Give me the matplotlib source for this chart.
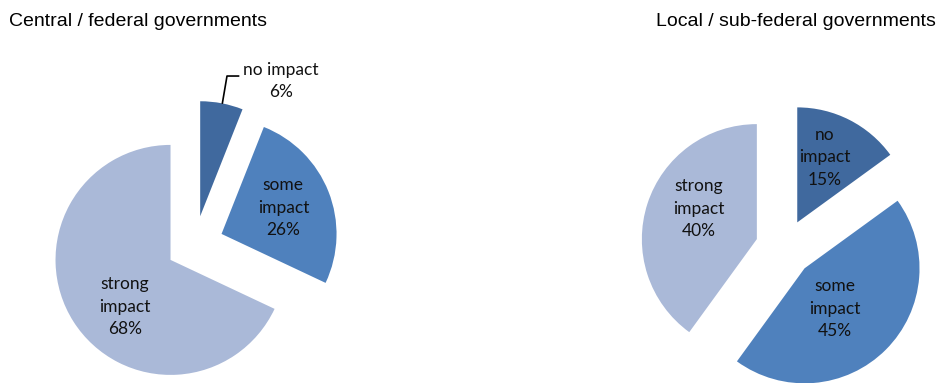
import matplotlib.pyplot as plt

# data
categories = ['no impact', 'some impact', 'strong impact']
central = [6, 26, 68]
local = [15, 45, 40]
colors = ['#40699E', '#4F81BD', '#AAB9D8']

W, H = 940, 383
fig = plt.figure(figsize=(W / 100, H / 100), dpi=100)

LIM = 1.7
R = 115.0


def make_axes(cx, cy):
    # cx, cy = pie centre in pixels (y from top)
    size = 2 * LIM * R
    ax = fig.add_axes([(cx - size / 2) / W, 1 - (cy + size / 2) / H, size / W, size / H])
    return ax


def draw_pie(ax, values, label_pos):
    labels = []
    for c, v in zip(categories, values):
        word, rest = c.split(' ')
        labels.append(f'{word}\n{rest}\n{v}%')
    wedges, texts = ax.pie(values, colors=colors, startangle=90, counterclock=False,
                           explode=[0.25] * len(values), labels=labels,
                           wedgeprops=dict(linewidth=0),
                           textprops=dict(fontsize=12.5, family='Lato', color='#111111',
                                          ha='center', va='center', linespacing=1.5))
    for t, p in zip(texts, label_pos):
        t.set_position(p)
        t.set_ha('center')
        t.set_va('center')
    ax.set_xlim(-LIM, LIM)
    ax.set_ylim(-LIM, LIM)
    ax.set_aspect('equal')
    ax.axis('off')
    return texts


# left pie
ax1 = make_axes(194.8, 244.5)
t1 = draw_pie(ax1, central, [(0.75, 1.42), (0.77, 0.32), (-0.61, -0.54)])
t1[0].set_text('no impact\n6%')
ax1.plot([0.24, 0.28, 0.38], [1.23, 1.465, 1.465], color='black', lw=1.2)

# right pie
ax2 = make_axes(784.2, 248.0)
draw_pie(ax2, local, [(0.35, 0.79), (0.44, -0.53), (-0.74, 0.34)])

fig.text(9 / W, 1 - 26 / H, 'Central / federal governments', fontsize=14,
         family='Liberation Sans', ha='left', va='baseline')
fig.text(936 / W, 1 - 26 / H, 'Local / sub-federal governments', fontsize=14,
         family='Liberation Sans', ha='right', va='baseline')

fig.savefig('out.png', dpi=100)
